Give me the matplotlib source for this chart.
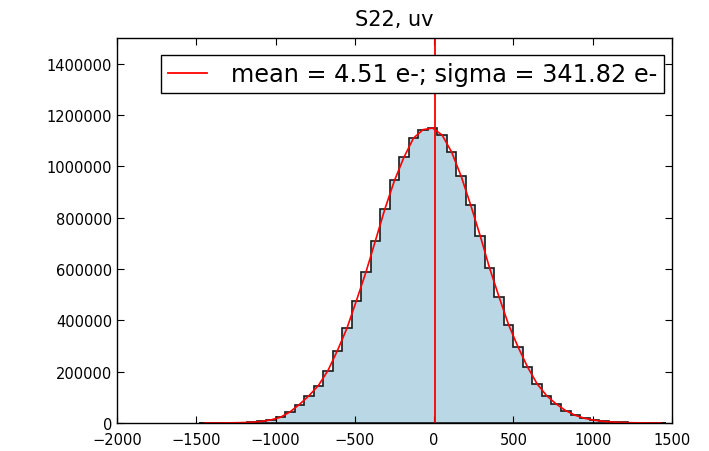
import numpy as np
import matplotlib
matplotlib.use("Agg")
import matplotlib.pyplot as plt

# bin edges of the histogram (60 e- wide) and counts
bin_edges = np.arange(-1480, 1461, 60)
counts = np.array([
    100, 200, 400, 800, 1500, 3000, 6000, 12000, 22000, 43000,
    72000, 106000, 146000, 204000, 282000, 369000, 477000, 588000, 711000, 835000,
    945000, 1036000, 1110000, 1143000, 1149000, 1122000, 1056000, 962000, 850000, 730000,
    603000, 490000, 382000, 295000, 217000, 152000, 106000, 74000, 48000, 30000,
    18000, 11000, 6000, 3500, 2000, 1000, 500, 300, 100,
])
mean_e = 4.51
sigma_e = 341.82
title = "S22, uv"

centers = 0.5 * (bin_edges[:-1] + bin_edges[1:])

fig = plt.figure(figsize=(7.09, 4.52), dpi=100)
ax = fig.add_axes([117 / 709, 1 - 424 / 452, 555 / 709, 385 / 452])

ax.hist(centers, bins=bin_edges, weights=counts, histtype="stepfilled",
        facecolor="#b9d7e5", edgecolor="#1a1a1a", linewidth=1.2)
# fitted curve through bin centres
ax.plot(centers, counts, color="red", linewidth=1.2)
ax.axvline(mean_e, color="red", linewidth=1.3,
           label="mean = %.2f e-; sigma = %.2f e-" % (mean_e, sigma_e))

ax.set_xlim(-2000, 1500)
ax.set_ylim(0, 1500000)
ax.set_xticks(np.arange(-2000, 1501, 500))
ax.set_yticks(np.arange(0, 1400001, 200000))
ax.ticklabel_format(style="plain", useOffset=False)
ax.tick_params(direction="in", top=True, right=True, length=5, labelsize=10.5)
ax.tick_params(axis="x", pad=6.5)
for s in ax.spines.values():
    s.set_linewidth(1.0)

ax.set_title(title, fontsize=15, pad=9)

leg = ax.legend(loc="upper right", bbox_to_anchor=(0.9856, 0.956), borderaxespad=0,
                fontsize=17.3, fancybox=False, framealpha=1, handlelength=1.6,
                handletextpad=1.0, borderpad=0.3)
leg.get_frame().set_edgecolor("black")
leg.get_frame().set_linewidth(1.0)

fig.savefig("out.png", dpi=100)
